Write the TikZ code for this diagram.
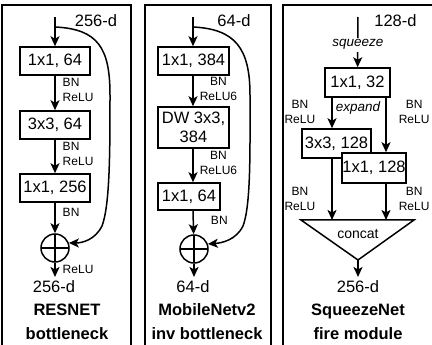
\documentclass[tikz,border=0pt]{standalone}
\usepackage{fontspec}
\setmainfont{Liberation Sans}
\usetikzlibrary{arrows.meta,positioning}

\begin{document}
\begin{tikzpicture}[x=1pt, y=-1pt, line width=1.5pt,
    >={Stealth[length=10pt, width=9pt, inset=2.5pt]},
    blk/.style={draw, fill=white, minimum height=28pt, inner sep=0pt, font=\fontsize{16.5}{19}\selectfont},
    lbl/.style={inner sep=1pt, align=center, font=\fontsize{12}{15}\selectfont},
    op/.style={inner sep=1pt, font=\fontsize{13.5}{16}\selectfont\itshape},
    dim/.style={anchor=base, inner sep=0pt, font=\fontsize{16.5}{19}\selectfont},
    title/.style={anchor=base, inner sep=0pt, font=\fontsize{16.5}{19}\selectfont\bfseries},
    adder/.style={draw, circle, minimum size=28pt, inner sep=0pt,
        path picture={\draw (path picture bounding box.north) -- (path picture bounding box.south)
            (path picture bounding box.west) -- (path picture bounding box.east);}}]
    \useasboundingbox (0,0) rectangle (432,345);

    % resnet bottleneck
    \draw (2,5) rectangle (131,360);
    \coordinate (rin) at (55,17);
    \coordinate (rsplit) at (55,27);
    \node[dim] (rtop) at (96,26.5) {256-d};
    \node[blk, minimum width=70pt] (r1) at (55,61) {1x1, 64};
    \node[blk, minimum width=70pt] (r2) at (55,125) {3x3, 64};
    \node[blk, minimum width=70pt] (r3) at (55,188) {1x1, 256};
    \node[adder] (radd) at (55,248) {};
    \coordinate (rout) at (55,277);
    \node[dim] (rbot) at (54,293) {256-d};
    \node[title] (rname) at (67,316) {RESNET};
    \node[title] (rkind) at (67,339) {bottleneck};

    \draw[->] (rin) -- (r1);
    \draw[->] (r1) -- (r2) node[lbl, align=left, pos=0.42, right=6pt] {BN\\ReLU};
    \draw[->] (r2) -- (r3) node[lbl, align=left, pos=0.42, right=6pt] {BN\\ReLU};
    \draw[->] (r3) -- (radd) node[lbl, pos=0.3, right=6pt] {BN};
    \draw[->] (radd) -- (rout) node[lbl, pos=0.5, right=6pt] {ReLU};
    \draw[->] (rsplit) .. controls (98,29) and (110,48) .. (110,95)
        .. controls (110,150) and (110,205) .. (102,226)
        .. controls (95,240) and (82,243) .. (radd.20);

    % mobilenetv2 inverted bottleneck
    \draw (145,5) rectangle (271,360);
    \coordinate (min) at (193,17);
    \coordinate (msplit) at (193,27);
    \node[dim] (mtop) at (234,26.5) {64-d};
    \node[blk, minimum width=71pt] (m1) at (193.5,61) {1x1, 384};
    \node[blk, minimum width=71pt, minimum height=41pt, align=center] (m2) at (193.5,127.5) {DW 3x3,\\384};
    \node[blk, minimum width=62pt, minimum height=27pt] (m3) at (189,196.5) {1x1, 64};
    \node[adder] (madd) at (194,249) {};
    \coordinate (mout) at (194,277);
    \node[dim] (mbot) at (193,293) {64-d};
    \node[title] (mname) at (207,316) {MobileNetv2};
    \node[title] (mkind) at (207,339) {inv bottleneck};

    \draw[->] (min) -- (min |- m1.north);
    \draw[->] (min |- m1.south) -- (min |- m2.north) node[lbl, pos=0.42, right=5pt] {BN\\ReLU6};
    \draw[->] (min |- m2.south) -- (min |- m3.north) node[lbl, pos=0.43, right=5pt] {BN\\ReLU6};
    \draw[->] (min |- m3.south) -- (madd) node[lbl, pos=0.4, right=16pt] {BN};
    \draw[->] (madd) -- (mout);
    \draw[->] (msplit) .. controls (235,29) and (250,48) .. (250,95)
        .. controls (250,150) and (251,205) .. (243,226)
        .. controls (236,240) and (222,243) .. (madd.20);

    % squeezenet fire module
    \draw (283,5) rectangle (440,360);
    \coordinate (sin) at (358,17);
    \coordinate (sqL) at (332,0);
    \coordinate (sqR) at (386,0);
    \node[dim] (stop) at (395.5,26.5) {128-d};
    \node[blk, minimum width=65pt, minimum height=29pt] (s1) at (357.5,82.5) {1x1, 32};
    \node[blk, minimum width=69pt, minimum height=29pt] (e1) at (336.5,143.5) {3x3, 128};
    \node[blk, minimum width=64pt, minimum height=30pt] (e2) at (374,168) {1x1, 128};
    \coordinate (catL) at (301,220);
    \coordinate (catR) at (414,220);
    \coordinate (catB) at (358,260);
    \draw (catL) -- (catR) -- (catB) -- cycle;
    \node[font=\fontsize{14}{16}\selectfont] (cat) at (358,234) {concat};
    \coordinate (sout) at (358,277);
    \node[dim] (sbot) at (358,293) {256-d};
    \node[title] (sname) at (358,316) {SqueezeNet};
    \node[title] (skind) at (358,339) {fire module};

    \draw[->] (sin) -- (s1) node[op, pos=0.55, fill=white, inner sep=2pt] {squeeze};
    \draw[->] (sqL |- s1.south) -- (sqL |- e1.north)
        node[op, pos=0.33, right=2pt] {expand}
        node[lbl, pos=0.47, left=15pt] {BN\\ReLU};
    \draw[->] (sqR |- s1.south) -- (sqR |- e2.north) node[lbl, pos=0.26, right=11pt] {BN\\ReLU};
    \draw[->] (sqL |- e1.south) -- (sqL |- catL) node[lbl, pos=0.66, left=15pt] {BN\\ReLU};
    \draw[->] (sqR |- e2.south) -- (sqR |- catL) node[lbl, pos=0.43, right=11pt] {BN\\ReLU};
    \draw[->] (catB) -- (sout);
\end{tikzpicture}
\end{document}
